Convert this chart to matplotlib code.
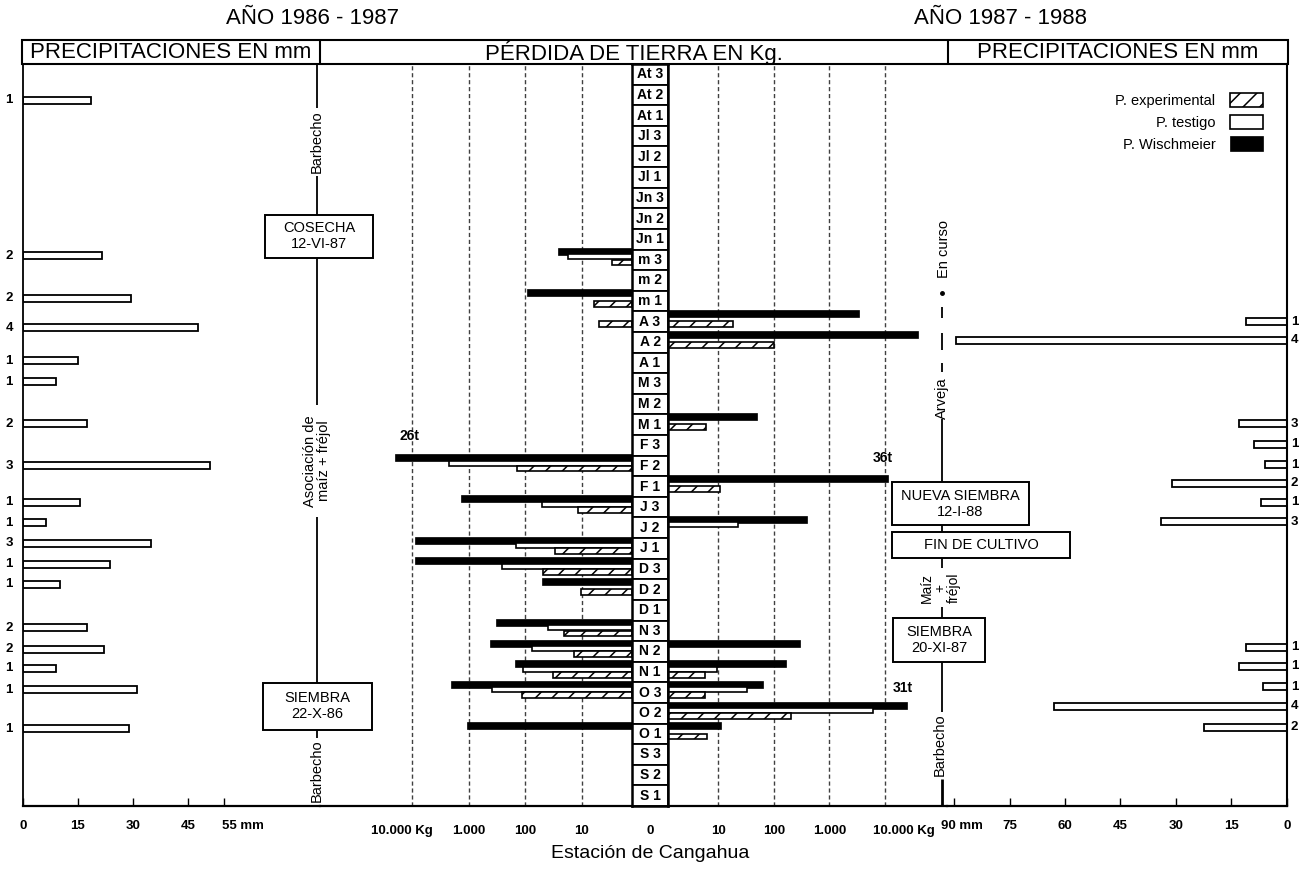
import matplotlib
matplotlib.use("Agg")
import matplotlib.pyplot as plt
from matplotlib.patches import Rectangle
from matplotlib.transforms import ScaledTranslation
from matplotlib.ticker import NullLocator

plt.rcParams['font.family'] = ['Liberation Sans', 'DejaVu Sans']
plt.rcParams['hatch.linewidth'] = 1.1

# ---------------- data ----------------
periods = ["At 3", "At 2", "At 1", "Jl 3", "Jl 2", "Jl 1", "Jn 3", "Jn 2", "Jn 1",
           "m 3", "m 2", "m 1", "A 3", "A 2", "A 1", "M 3", "M 2", "M 1",
           "F 3", "F 2", "F 1", "J 3", "J 2", "J 1", "D 3", "D 2", "D 1",
           "N 3", "N 2", "N 1", "O 3", "O 2", "O 1", "S 3", "S 2", "S 1"]

# soil loss in kg, 1986-1987 (left half); 0 = no bar
wischmeier_8687 = [0, 0, 0, 0, 0, 0,
                   0, 0, 0, 27, 0, 93,
                   0, 0, 0, 0, 0, 0,
                   0, 20000, 0, 1380, 0, 9100,
                   9100, 51, 0, 330, 425, 154,
                   2100, 0, 1100, 0, 0, 0]
testigo_8687 = [0, 0, 0, 0, 0, 0,
                0, 0, 0, 17.7, 0, 0,
                0, 0, 0, 0, 0, 0,
                0, 2240, 0, 51, 0, 148,
                260, 0, 0, 40, 77, 110,
                390, 0, 0, 0, 0, 0]
experimental_8687 = [0, 0, 0, 0, 0, 0,
                     0, 0, 0, 2.9, 0, 6.2,
                     5.0, 0, 0, 0, 0, 0,
                     0, 141, 0, 11.8, 0, 30,
                     49, 10.4, 0, 21, 14, 32,
                     115, 0, 0, 0, 0, 0]

# soil loss in kg, 1987-1988 (right half)
wischmeier_8788 = [0, 0, 0, 0, 0, 0,
                   0, 0, 0, 0, 0, 0,
                   3400, 39000, 0, 0, 0, 50,
                   0, 0, 11300, 0, 395, 0,
                   0, 0, 0, 0, 296, 166,
                   65, 24600, 11.3, 0, 0, 0]
testigo_8788 = [0, 0, 0, 0, 0, 0,
                0, 0, 0, 0, 0, 0,
                0, 0, 0, 0, 0, 0,
                0, 0, 0, 0, 23, 0,
                0, 0, 0, 0, 0, 9.6,
                33, 6000, 0, 0, 0, 0]
experimental_8788 = [0, 0, 0, 0, 0, 0,
                     0, 0, 0, 0, 0, 0,
                     18.6, 101, 0, 0, 0, 6.1,
                     0, 0, 11, 0, 0, 0,
                     0, 0, 0, 0, 0, 5.8,
                     5.8, 205, 6.3, 0, 0, 0]

# precipitation events 1986-1987: position (in period rows), mm, number of events
precip_8687_pos = [1.25, 8.8, 10.86, 12.29, 13.9, 14.91, 16.95, 19.0, 20.77,
                   21.76, 22.76, 23.76, 24.75, 26.86, 27.9, 28.82, 29.86, 31.74]
precip_8687_mm = [18.6, 21.6, 29.5, 47.8, 15.0, 9.0, 17.5, 51.1, 15.6,
                  6.3, 35.0, 23.8, 10.1, 17.5, 22.1, 9.0, 31.1, 29.0]
precip_8687_n = [1, 2, 2, 4, 1, 1, 2, 3, 1, 1, 3, 1, 1, 2, 2, 1, 1, 1]

# precipitation events 1987-1988
precip_8788_pos = [12.0, 12.9, 16.95, 17.95, 18.95, 19.83, 20.77, 21.71,
                   27.8, 28.73, 29.71, 30.65, 31.68]
precip_8788_mm = [11.1, 89.5, 13.0, 8.9, 5.9, 31.1, 7.0, 34.1,
                  11.1, 13.0, 6.5, 63.0, 22.4]
precip_8788_n = [1, 4, 3, 1, 1, 2, 1, 3, 1, 1, 1, 4, 2]

precip_left_ticks = [0, 15, 30, 45, 55]
precip_left_labels = ["0", "15", "30", "45", "55 mm"]
precip_right_ticks = [90, 75, 60, 45, 30, 15, 0]
precip_right_labels = ["90 mm", "75", "60", "45", "30", "15", "0"]
loss_ticks = [10, 100, 1000, 10000]
loss_labels = ["10", "100", "1.000", "10.000 Kg"]
legend_labels = ["P. experimental", "P. testigo", "P. Wischmeier"]

# ---------------- layout ----------------
W, H = 1299, 873
fig = plt.figure(figsize=(W / 100, H / 100), dpi=100)
TOP, BOT = 64, 806
NROW = len(periods)


def add_ax(x0, x1, y0=TOP, y1=BOT):
    a = fig.add_axes([x0 / W, 1 - y1 / H, (x1 - x0) / W, (y1 - y0) / H])
    a.set_ylim(NROW - 0.5, -0.5)
    a.set_yticks([])
    a.patch.set_alpha(0)
    return a


def shift_label(lab, dx_px):
    lab.set_transform(lab.get_transform() +
                      ScaledTranslation(dx_px / 100, 0, fig.dpi_scale_trans))


TICK_FONT = dict(fontsize=9.5, fontweight='bold')

# --- left precipitation panel
axl = add_ax(23, 320)
axl.set_xlim(0, 297 / 3.66)
axl.barh(precip_8687_pos, precip_8687_mm, height=0.34, facecolor='white',
         edgecolor='black', lw=1.3)
for p, n in zip(precip_8687_pos, precip_8687_n):
    axl.text(-3.8, p, str(n), ha='center', va='center', fontsize=9.5,
             fontweight='bold', clip_on=False)
for s in ['top', 'right']:
    axl.spines[s].set_visible(False)
axl.spines['left'].set_linewidth(1.3)
axl.spines['bottom'].set_linewidth(1.6)
axl.set_xticks(precip_left_ticks)
axl.set_xticklabels(precip_left_labels, **TICK_FONT)
axl.tick_params(axis='x', direction='in', length=6, width=1, pad=10)
lab = axl.get_xticklabels()[-1]
lab.set_ha('left')
shift_label(lab, -2)

# --- right precipitation panel
axr = add_ax(947, 1287)
axr.set_xlim(340 / 3.7, 0)
axr.barh(precip_8788_pos, precip_8788_mm, height=0.34, facecolor='white',
         edgecolor='black', lw=1.3)
for p, n in zip(precip_8788_pos, precip_8788_n):
    axr.text(-2.0, p, str(n), ha='center', va='center', fontsize=9.5,
             fontweight='bold', clip_on=False)
for s in ['top', 'left']:
    axr.spines[s].set_visible(False)
axr.spines['right'].set_linewidth(1.5)
axr.spines['bottom'].set_linewidth(1.6)
axr.set_xticks(precip_right_ticks)
axr.set_xticklabels(precip_right_labels, **TICK_FONT)
axr.tick_params(axis='x', direction='in', length=6, width=1, pad=10)
shift_label(axr.get_xticklabels()[0], 8)

# --- soil loss panels (log scales, mirrored)
OFFS = {'w': -0.40, 't': -0.14, 'e': 0.13}
HGT = {'w': 0.34, 't': 0.24, 'e': 0.28}


def soil_bars(ax, values, key, base, **style):
    idx = [i for i, v in enumerate(values) if v > 0]
    return ax.barh([i + OFFS[key] for i in idx], [values[i] - base for i in idx],
                   left=base, height=HGT[key], zorder=3, **style)


STY_W = dict(facecolor='black', edgecolor='black', lw=0.5)
STY_T = dict(facecolor='white', edgecolor='black', lw=1.2)
STY_E = dict(facecolor='white', edgecolor='black', lw=1.2, hatch='//')

base_l = 1.3
axm1 = add_ax(320, 632)
axm1.set_xscale('log')
axm1.set_xlim(10 ** (0.114 + 312 / 56.5), base_l)
base_r = 1.265
axm2 = add_ax(668, 947)
axm2.set_xscale('log')
axm2.set_xlim(base_r, 10 ** (0.102 + 279 / 55.7))

handles = {}
for ax, base, (w, t, e) in [(axm1, base_l, (wischmeier_8687, testigo_8687, experimental_8687)),
                            (axm2, base_r, (wischmeier_8788, testigo_8788, experimental_8788))]:
    for v in loss_ticks:
        ax.axvline(v, color='0.25', lw=1.0, ls=(0, (3, 2)), zorder=1)
    handles['w'] = soil_bars(ax, w, 'w', base, **STY_W)
    handles['t'] = soil_bars(ax, t, 't', base, **STY_T)
    handles['e'] = soil_bars(ax, e, 'e', base, **STY_E)
    for s in ['top', 'left', 'right']:
        ax.spines[s].set_visible(False)
    ax.spines['bottom'].set_linewidth(1.6)
    ax.xaxis.set_minor_locator(NullLocator())
    ax.set_xticks(loss_ticks)
    ax.set_xticklabels(loss_labels, **TICK_FONT)
    ax.tick_params(axis='x', length=0, pad=14)
shift_label(axm1.get_xticklabels()[-1], -11)
shift_label(axm2.get_xticklabels()[-1], 19)

# --- period label column
axc = add_ax(632, 668)
axc.set_xlim(0, 1)
axc.barh(range(NROW), [1] * NROW, left=0, height=1, facecolor='white',
         edgecolor='black', lw=1.3)
for i, p in enumerate(periods):
    axc.text(0.5, i, p, ha='center', va='center', fontsize=10, fontweight='bold')
for s in axc.spines.values():
    s.set_linewidth(1.8)
axc.set_xticks([0.5])
axc.set_xticklabels(["0"], **TICK_FONT)
axc.tick_params(axis='x', length=0, pad=14)

# --- legend
fig.legend([handles['e'], handles['t'], handles['w']], legend_labels,
           loc='upper right', bbox_to_anchor=(1263 / W, 1 - 93 / H),
           markerfirst=False, frameon=False, fontsize=10.5,
           handlelength=2.25, handleheight=1.15, labelspacing=0.45,
           handletextpad=1.0, borderpad=0, borderaxespad=0)

# ---------------- annotations (pixel overlay) ----------------
ov = fig.add_axes([0, 0, 1, 1])
ov.set_xlim(0, W)
ov.set_ylim(H, 0)
ov.axis('off')
ov.set_zorder(5)


def seg(x, y0, y1, lw=1.3):
    ov.plot([x, x], [y0, y1], color='black', lw=lw, solid_capstyle='butt')


def box(x0, y0, x1, y1, lines, fs=10.5):
    ov.add_patch(Rectangle((x0, y0), x1 - x0, y1 - y0, facecolor='white',
                           edgecolor='black', lw=1.4, zorder=6))
    n = len(lines)
    for k, t in enumerate(lines):
        yy = (y0 + y1) / 2 + (k - (n - 1) / 2) * 16
        ov.text((x0 + x1) / 2, yy, t, ha='center', va='center', fontsize=fs, zorder=7)


# titles and header
fig.text(313 / W, 1 - 18 / H, "AÑO 1986 - 1987", ha='center', va='center', fontsize=16)
fig.text(1000 / W, 1 - 18 / H, "AÑO 1987 - 1988", ha='center', va='center', fontsize=16)
ov.add_patch(Rectangle((22, 40), 1266, 24, facecolor='none', edgecolor='black', lw=1.5))
seg(320, 40, 64, lw=1.5)
seg(948, 40, 64, lw=1.5)
ov.text(171, 52.5, "PRECIPITACIONES EN mm", ha='center', va='center', fontsize=16)
ov.text(634, 52.5, "PÉRDIDA DE TIERRA EN Kg.", ha='center', va='center', fontsize=16)
ov.text(1118, 52.5, "PRECIPITACIONES EN mm", ha='center', va='center', fontsize=16)

fig.text(650 / W, 1 - 853 / H, "Estación de Cangahua", ha='center', va='center', fontsize=14)

# left crop timeline
XL = 317
seg(XL, 64, 108)
ov.text(XL, 142, "Barbecho", rotation=90, ha='center', va='center', fontsize=10.5)
seg(XL, 176, 215)
box(265, 215, 373, 258, ["COSECHA", "12-VI-87"])
seg(XL, 258, 405)
ov.text(XL, 461, "Asociación de\nmaíz + fréjol", rotation=90, ha='center', va='center',
        fontsize=10.5, linespacing=0.95, multialignment='center')
seg(XL, 517, 683)
box(263, 683, 372, 730, ["SIEMBRA", "22-X-86"])
seg(XL, 730, 738)
ov.text(XL, 771, "Barbecho", rotation=90, ha='center', va='center', fontsize=10.5)

# right crop timeline
XR = 942
ov.text(XR + 2, 249, "En curso", rotation=90, ha='center', va='center', fontsize=10.5)
ov.plot([XR], [293], 'o', color='black', ms=2.5)
seg(XR, 307, 318)
seg(XR, 333, 350)
seg(XR, 363, 372)
ov.text(XR, 398, "Arveja", rotation=90, ha='center', va='center', fontsize=10.5)
seg(XR, 419, 482)
box(892, 482, 1029, 525, ["NUEVA SIEMBRA", "12-I-88"])
seg(XR, 525, 532)
box(892, 532, 1070, 558, ["FIN DE CULTIVO"])
seg(XR, 558, 568)
ov.text(XR - 2, 588, "Maíz\n+\nfréjol", rotation=90, ha='center', va='center',
        fontsize=10, linespacing=0.95, multialignment='center')
seg(XR, 607, 618)
box(893, 618, 985, 662, ["SIEMBRA", "20-XI-87"])
seg(XR, 662, 712)
ov.text(XR - 2, 745, "Barbecho", rotation=90, ha='center', va='center', fontsize=10.5)
seg(XR, 779, 806, lw=2)

# totals written beside truncated bars
ov.text(410, 436, "26t", ha='center', va='center', fontsize=10, fontweight='bold')
ov.text(883, 458, "36t", ha='center', va='center', fontsize=10, fontweight='bold')
ov.text(903, 688, "31t", ha='center', va='center', fontsize=10, fontweight='bold')

fig.savefig("out.png", dpi=100)
